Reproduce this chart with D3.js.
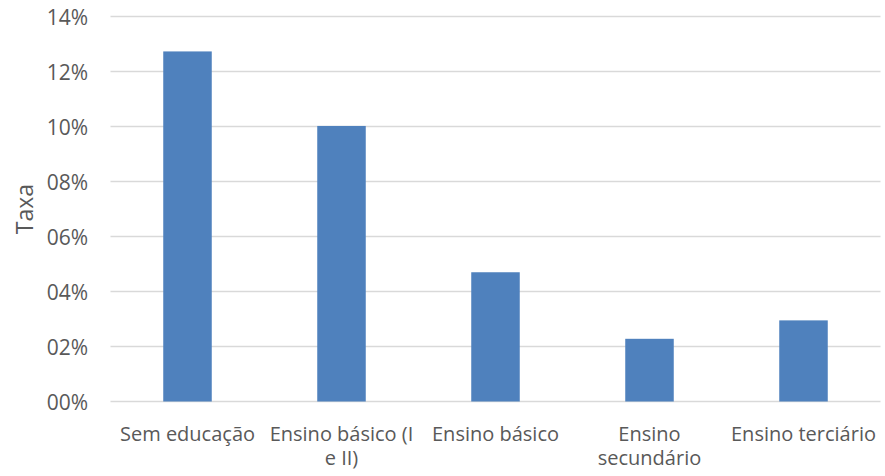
<!DOCTYPE html>
<html><head><meta charset="utf-8">
<script src="https://cdn.jsdelivr.net/npm/d3@7"></script>
<style>body{margin:0;background:#fff}svg{display:block}text{font-family:"Open Sans",sans-serif;fill:#595959}</style>
</head><body><svg id="c" width="885" height="476"></svg>
<script>
const categories = ["Sem educação", "Ensino básico (I e II)", "Ensino básico", "Ensino secundário", "Ensino terciário"];
const values = [0.1273, 0.1002, 0.0470, 0.0228, 0.0295];
const yTicks = [0, 0.02, 0.04, 0.06, 0.08, 0.10, 0.12, 0.14];
const yTitle = "Taxa";

(function () {
const svg = d3.select("#c");
const mLeft = 110.5, mRight = 880.5, mTop = 16.5, mBottom = 401.5;
const x = d3.scaleBand().domain(categories).range([mLeft, mRight]).paddingInner(0.685).paddingOuter(0.3425);
const y = d3.scaleLinear().domain([0, 0.14]).range([mBottom, mTop]);

svg.append("g").selectAll("line").data(yTicks).join("line")
  .attr("x1", mLeft).attr("x2", mRight)
  .attr("y1", d => y(d)).attr("y2", d => y(d))
  .attr("stroke", "#d9d9d9").attr("stroke-width", 1.3);

svg.append("g").selectAll("rect").data(values).join("rect")
  .attr("x", (d, i) => x(categories[i]))
  .attr("width", x.bandwidth())
  .attr("y", d => y(d))
  .attr("height", d => mBottom - y(d))
  .attr("fill", "#4f81bd");

const yAxis = d3.axisLeft(y).tickValues(yTicks).tickSize(0).tickPadding(0)
  .tickFormat(d => String(Math.round(d * 100)).padStart(2, "0") + "%");
const gy = svg.append("g").attr("transform", "translate(88,0)").call(yAxis);
gy.select(".domain").remove();
gy.selectAll("text").attr("font-size", 21).attr("font-family", "'Open Sans',sans-serif").attr("fill", "#595959").attr("dy", "0.36em");

svg.append("text").attr("transform", "translate(33,209) rotate(-90)")
  .attr("text-anchor", "middle").attr("font-size", 23).text(yTitle);

const step = x.step();
const gx = svg.append("g");
const fs = 20;
categories.forEach(c => {
  const cx = x(c) + x.bandwidth() / 2;
  const t = gx.append("text").attr("x", cx).attr("y", 441)
    .attr("text-anchor", "middle").attr("font-size", fs);
  const words = c.split(" ");
  let lines = [], cur = "";
  const probe = gx.append("text").attr("font-size", fs);
  words.forEach(w => {
    const test = cur ? cur + " " + w : w;
    probe.text(test);
    if (probe.node().getComputedTextLength() > step && cur) { lines.push(cur); cur = w; }
    else cur = test;
  });
  lines.push(cur);
  probe.remove();
  lines.forEach((l, i) => t.append("tspan").attr("x", cx).attr("dy", i ? 24 : 0).text(l));
});
})();
</script></body></html>
